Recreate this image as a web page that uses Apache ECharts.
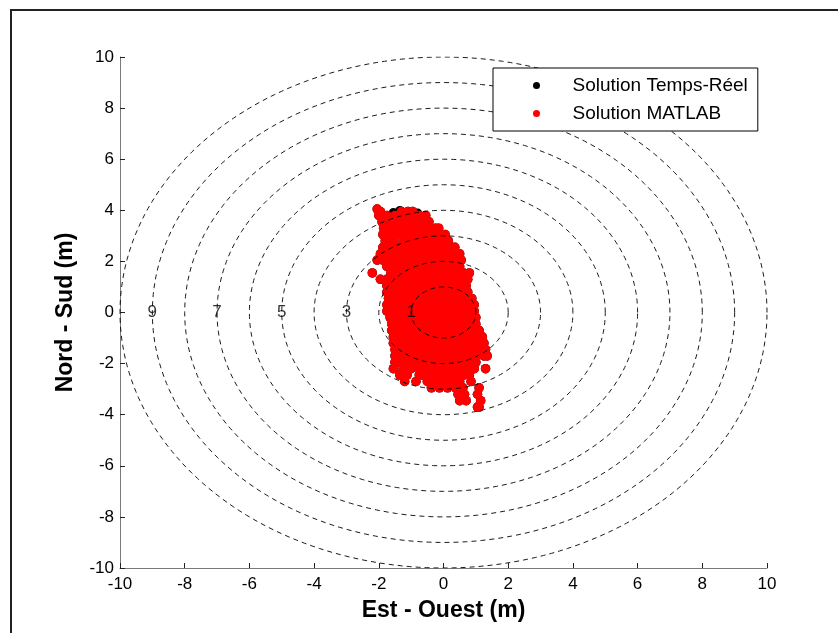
<!DOCTYPE html>
<html>
<head>
<meta charset="utf-8">
<script src="https://cdn.jsdelivr.net/npm/echarts@6/dist/echarts.min.js"></script>
<style>
  html, body { margin: 0; padding: 0; background: #fff; }
  #frame { position: absolute; left: 10px; top: 9px; width: 840px; height: 640px; border-left: 2px solid #222; border-top: 2px solid #222; }
  #chart { position: absolute; left: 0; top: 0; width: 838px; height: 633px; }
</style>
</head>
<body>
<div id="frame"></div>
<div id="chart"></div>
<script>
// Horizontal position error (m), East-West vs North-South
// Each row: [north-south value, [east-west values at that level]]
const cloudRows = [
  [4.05, [-2.05]],
  [3.95, [-1.95, -1.3, -1.1, -0.95]],
  [3.8, [-2.0, -1.75, -1.5, -1.25, -1.0, -0.75, -0.55]],
  [3.55, [-1.9, -1.625, -1.375, -1.125, -0.875, -0.625, -0.45]],
  [3.3, [-1.85, -1.75, -1.5, -1.25, -1.0, -0.75, -0.5, -0.25, -0.15]],
  [3.05, [-1.875, -1.625, -1.375, -1.125, -0.875, -0.625, -0.375, -0.125, 0.05]],
  [2.8, [-1.8, -1.55, -1.25, -1.0, -0.75, -0.5, -0.25, 0.0, 0.15]],
  [2.55, [-1.875, -1.625, -1.375, -1.125, -0.875, -0.625, -0.375, -0.125, 0.125, 0.35]],
  [2.3, [-1.95, -1.75, -1.5, -1.25, -1.0, -0.75, -0.5, -0.25, 0.0, 0.25, 0.5]],
  [2.05, [-2.05, -1.875, -1.625, -1.375, -1.125, -0.875, -0.625, -0.375, -0.125, 0.125, 0.375, 0.55]],
  [1.8, [-1.75, -1.5, -1.25, -1.0, -0.75, -0.5, -0.25, 0.0, 0.25, 0.5]],
  [1.55, [-2.2, -1.625, -1.375, -1.125, -0.875, -0.625, -0.375, -0.125, 0.125, 0.375, 0.625, 0.8]],
  [1.3, [-1.95, -1.75, -1.5, -1.25, -1.0, -0.75, -0.5, -0.25, 0.0, 0.25, 0.5, 0.75]],
  [1.05, [-1.75, -1.625, -1.375, -1.125, -0.875, -0.625, -0.375, -0.125, 0.125, 0.375, 0.625, 0.7]],
  [0.8, [-1.75, -1.5, -1.25, -1.0, -0.75, -0.5, -0.25, 0.0, 0.25, 0.5, 0.75]],
  [0.55, [-1.7, -1.625, -1.375, -1.125, -0.875, -0.625, -0.375, -0.125, 0.125, 0.375, 0.625, 0.875]],
  [0.3, [-1.75, -1.5, -1.25, -1.0, -0.75, -0.5, -0.25, 0.0, 0.25, 0.5, 0.75, 0.95]],
  [0.05, [-1.75, -1.625, -1.375, -1.125, -0.875, -0.625, -0.375, -0.125, 0.125, 0.375, 0.625, 0.875, 0.95]],
  [-0.2, [-1.65, -1.5, -1.25, -1.0, -0.75, -0.5, -0.25, 0.0, 0.25, 0.5, 0.75, 1.0]],
  [-0.45, [-1.6, -1.375, -1.125, -0.875, -0.625, -0.375, -0.125, 0.125, 0.375, 0.625, 0.875, 1.0]],
  [-0.7, [-1.6, -1.5, -1.25, -1.0, -0.75, -0.5, -0.25, 0.0, 0.25, 0.5, 0.75, 1.0, 1.1]],
  [-0.95, [-1.55, -1.375, -1.125, -0.875, -0.625, -0.375, -0.125, 0.125, 0.375, 0.625, 0.875, 1.125, 1.2]],
  [-1.2, [-1.55, -1.5, -1.25, -1.0, -0.75, -0.5, -0.25, 0.0, 0.25, 0.5, 0.75, 1.0, 1.25]],
  [-1.45, [-1.5, -1.375, -1.125, -0.875, -0.625, -0.375, -0.125, 0.125, 0.375, 0.625, 0.875, 1.125, 1.3]],
  [-1.7, [-1.5, -1.25, -1.0, -0.75, -0.5, -0.25, 0.0, 0.25, 0.5, 0.75, 1.0, 1.25, 1.35]],
  [-1.95, [-1.5, -1.375, -1.125, -0.875, -0.625, -0.375, -0.125, 0.125, 0.375, 0.625, 0.875, 1.0]],
  [-2.2, [-1.55, -1.25, -1.0, -0.75, -0.5, -0.25, 0.0, 0.25, 0.5, 0.75, 0.95, 1.3]],
  [-2.45, [-1.35, -1.125, -0.75, -0.625, -0.375, -0.125, 0.125, 0.375, 0.625, 0.8]],
  [-2.7, [-1.2, -0.85, -0.5, -0.25, 0.0, 0.25, 0.5, 0.85]],
  [-2.95, [-0.375, -0.125, 0.125, 0.375, 0.6, 1.1]],
  [-3.2, [0.45, 0.65, 1.05]],
  [-3.45, [0.5, 0.7, 1.15]],
  [-3.7, [1.05, 1.1]]
];

// A few real-time fixes that show at the upper edge of the cloud
const realTimeExtra = [[-1.55, 3.9], [-1.35, 3.98], [-0.8, 3.88]];

// Reference rings (m) and the rings that carry a label
const ringRadii = [1, 2, 3, 4, 5, 6, 7, 8, 9, 10];
const ringLabels = [1, 3, 5, 7, 9];

const axisTicks = [-10, -8, -6, -4, -2, 0, 2, 4, 6, 8, 10];

const matlabPoints = [];
cloudRows.forEach(([y, xs]) => xs.forEach(x => matlabPoints.push([x, y])));
const realTimePoints = matlabPoints.concat(realTimeExtra);

// Ring outlines traced around the origin
function ringPath(r) {
  const pts = [];
  const n = 240;
  for (let i = 0; i <= n; i++) {
    const a = (i / n) * 2 * Math.PI;
    pts.push([r * Math.cos(a), r * Math.sin(a)]);
  }
  return pts;
}

const FONT = '"Liberation Sans", Arial, Helvetica, sans-serif';

const series = [];
series.push({
  name: 'Solution Temps-Réel',
  type: 'scatter',
  data: realTimePoints,
  symbol: 'circle',
  symbolSize: 9.5,
  z: 3,
  itemStyle: { color: '#000', opacity: 1 }
});
series.push({
  name: 'Solution MATLAB',
  type: 'scatter',
  data: matlabPoints,
  symbol: 'circle',
  symbolSize: 9.5,
  z: 4,
  itemStyle: { color: '#ff0000', opacity: 1 }
});
// Rings and their labels are drawn over the fixes
ringRadii.forEach(r => {
  series.push({
    type: 'line',
    data: ringPath(r),
    showSymbol: false,
    silent: true,
    z: 6,
    lineStyle: { color: '#000', width: 0.9, type: [5, 4] }
  });
});
series.push({
  type: 'scatter',
  silent: true,
  z: 7,
  symbolSize: 0,
  data: ringLabels.map(r => [-r, 0]),
  label: {
    show: true,
    position: 'inside',
    formatter: p => String(-p.value[0]),
    color: '#000',
    fontSize: 17,
    fontFamily: FONT
  }
});

const chart = echarts.init(document.getElementById('chart'), null, { renderer: 'canvas' });
chart.setOption({
  animation: false,
  backgroundColor: 'transparent',
  textStyle: { fontFamily: FONT },
  grid: { left: 120, top: 57, width: 647, height: 511, containLabel: false },
  legend: {
    data: [
      { name: 'Solution Temps-Réel', icon: 'circle', itemStyle: { color: '#000', opacity: 1 } },
      { name: 'Solution MATLAB', icon: 'circle', itemStyle: { color: '#ff0000', opacity: 1 } }
    ],
    orient: 'vertical',
    left: 493,
    top: 68,
    z: 10,
    backgroundColor: '#fff',
    borderColor: '#000',
    borderWidth: 1,
    padding: [8, 10, 8, 40],
    itemWidth: 62,
    itemHeight: 7,
    itemGap: 9,
    textStyle: { fontSize: 19, color: '#000', fontFamily: FONT }
  },
  xAxis: {
    type: 'value',
    min: -10,
    max: 10,
    interval: 2,
    name: 'Est - Ouest (m)',
    nameLocation: 'middle',
    nameGap: 31,
    nameTextStyle: { fontSize: 23, fontWeight: 'bold', color: '#000', fontFamily: FONT },
    axisLine: { show: true, onZero: false, lineStyle: { color: '#7a7a7a', width: 1 } },
    axisTick: { show: true, inside: true, length: 5, lineStyle: { color: '#222' } },
    axisLabel: { fontSize: 17, color: '#000', margin: 8, fontFamily: FONT,
      formatter: v => axisTicks.includes(v) ? String(v) : '' },
    splitLine: { show: false }
  },
  yAxis: {
    type: 'value',
    min: -10,
    max: 10,
    interval: 2,
    name: 'Nord - Sud (m)',
    nameLocation: 'middle',
    nameGap: 43,
    nameTextStyle: { fontSize: 23, fontWeight: 'bold', color: '#000', fontFamily: FONT },
    axisLine: { show: true, onZero: false, lineStyle: { color: '#7a7a7a', width: 1 } },
    axisTick: { show: true, inside: true, length: 5, lineStyle: { color: '#222' } },
    axisLabel: { fontSize: 17, color: '#000', margin: 6, fontFamily: FONT,
      formatter: v => axisTicks.includes(v) ? String(v) : '' },
    splitLine: { show: false }
  },
  series: series
});
</script>
</body>
</html>
